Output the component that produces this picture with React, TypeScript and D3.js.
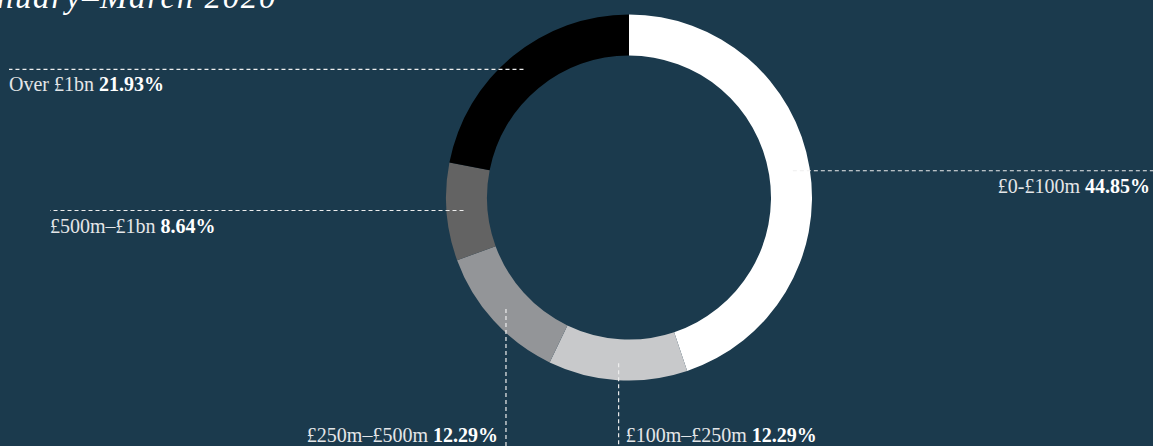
import * as d3 from 'd3'

// deal size bands, clockwise from 12 o'clock
const bands = ['£0-£100m', '£100m–£250m', '£250m–£500m', '£500m–£1bn', 'Over £1bn']
const shares = [44.85, 12.29, 12.29, 8.64, 21.93]
const colors = ['#ffffff', '#c8c9cb', '#939598', '#636363', '#000000']
const title = 'January–March 2020'

const W = 1153
const H = 446
const BG = '#1b3a4d'
const FONT = "'Liberation Serif', 'DejaVu Serif', serif"

// where each label sits relative to its leader line
// side: 'left' | 'right' -> horizontal leader, 'down' -> vertical leader to the bottom
const labelLayout = [
  { side: 'right', edge: 1153, textX: 1150, anchor: 'end' },
  { side: 'down', textX: 7, anchor: 'start' },
  { side: 'down', textX: -8, anchor: 'end' },
  { side: 'left', edge: 50, textX: 50, anchor: 'start' },
  { side: 'left', edge: 9, textX: 9, anchor: 'start' },
]

export default function App() {
  const cx = 629
  const cy = 197.5
  const outer = 183
  const inner = 142

  const pie = d3.pie<number>().sort(null).value((d) => d)
  const arcs = pie(shares)
  const arc = d3.arc<d3.PieArcDatum<number>>().innerRadius(inner).outerRadius(outer)
  const mid = d3.arc<d3.PieArcDatum<number>>().innerRadius(166).outerRadius(166)

  return (
    <svg
      width={W}
      height={H}
      style={{ position: 'absolute', left: 0, top: 0, background: BG, display: 'block' }}
    >
      <rect width={W} height={H} fill={BG} />
      <text x={277} y={8} textAnchor="end" fill="#fff" fontFamily={FONT} fontStyle="italic" fontSize={33} letterSpacing={1.6}>
        {title}
      </text>
      <g transform={`translate(${cx},${cy})`}>
        {arcs.map((a, i) => (
          <path key={i} d={arc(a) ?? ''} fill={colors[i]} />
        ))}
      </g>
      {arcs.map((a, i) => {
        const [mx, my] = mid.centroid(a)
        const px = cx + mx
        const py = cy + my
        const L = labelLayout[i]
        const label = (
          <>
            <tspan fill="#e4e6e8">{bands[i]} </tspan>
            <tspan fontWeight="bold" fill="#fff">{d3.format('.2f')(shares[i])}%</tspan>
          </>
        )
        if (L.side === 'down') {
          return (
            <g key={i}>
              <line x1={px} y1={py} x2={px} y2={H} stroke="#eeeeee" strokeWidth={1.2} strokeDasharray="4,3" />
              <text x={px + L.textX} y={442} textAnchor={L.anchor} fontFamily={FONT} fontSize={20}>
                {label}
              </text>
            </g>
          )
        }
        return (
          <g key={i}>
            <line x1={px} y1={py} x2={L.edge} y2={py} stroke="#eeeeee" strokeWidth={1.2} strokeDasharray="4,3" />
            <text x={L.textX} y={py + 22} textAnchor={L.anchor} fontFamily={FONT} fontSize={20}>
              {label}
            </text>
          </g>
        )
      })}
    </svg>
  )
}
